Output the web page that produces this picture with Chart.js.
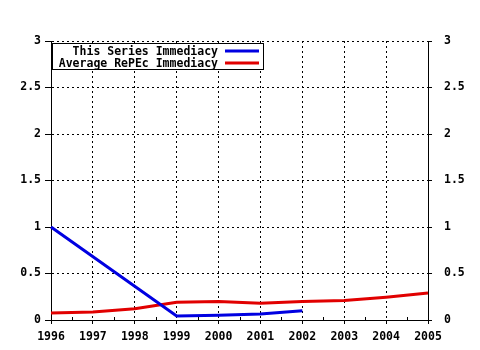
<!DOCTYPE html>
<html>
<head>
<meta charset="utf-8">
<script src="https://cdn.jsdelivr.net/npm/chart.js@4/dist/chart.umd.min.js"></script>
<style>
  html, body { margin: 0; padding: 0; background: #fff; }
  #wrap { width: 480px; height: 350px; }
</style>
</head>
<body>
<div id="wrap"><canvas id="myChart" width="480" height="350"></canvas></div>
<script>
  // data
  var years = ["1996", "1997", "1998", "1999", "2000", "2001", "2002", "2003", "2004", "2005"];
  var seriesValues = [1.0, null, null, 0.043, 0.05, 0.065, 0.1, null, null, null];
  var averageValues = [0.075, 0.085, 0.12, 0.19, 0.2, 0.18, 0.2, 0.21, 0.245, 0.29];
  var yTicks = [0, 0.5, 1, 1.5, 2, 2.5, 3];
  var seriesNames = ["This Series Immediacy", "Average RePEc Immediacy"];

  var FONT = "DejaVu Sans Mono";
  var blue = "rgb(0,0,225)";
  var red = "rgb(225,0,0)";

  // legend box with text first then the line sample
  var legendBox = {
    id: "legendBox",
    afterDraw: function (chart) {
      var c = chart.ctx;
      c.save();
      c.fillStyle = "#fff";
      c.fillRect(52, 43, 211, 26);
      c.strokeStyle = "#000";
      c.lineWidth = 1;
      c.strokeRect(52.5, 43.5, 211, 26);
      c.font = "bold 11.5px '" + FONT + "'";
      c.fillStyle = "#000";
      c.textAlign = "right";
      c.textBaseline = "alphabetic";
      c.fillText(seriesNames[0], 218, 55);
      c.fillText(seriesNames[1], 218, 67);
      c.lineWidth = 3;
      c.strokeStyle = blue;
      c.beginPath(); c.moveTo(225, 51); c.lineTo(259, 51); c.stroke();
      c.strokeStyle = red;
      c.beginPath(); c.moveTo(225, 63); c.lineTo(259, 63); c.stroke();
      c.restore();
    }
  };

  // small half-year ticks on the bottom axis
  var minorTicks = {
    id: "minorTicks",
    afterDraw: function (chart) {
      var x = chart.scales.x, a = chart.chartArea, c = chart.ctx;
      c.save();
      c.strokeStyle = "#000";
      c.lineWidth = 1;
      for (var i = 0; i < years.length - 1; i++) {
        var p = Math.round((x.getPixelForValue(i) + x.getPixelForValue(i + 1)) / 2) + 0.5;
        c.beginPath(); c.moveTo(p, a.bottom); c.lineTo(p, a.bottom - 3); c.stroke();
      }
      c.restore();
    }
  };

  var tickFont = { family: FONT, size: 11.5, weight: "bold" };
  var fmt = function (v) { return String(v); };

  var ctx = document.getElementById("myChart").getContext("2d");
  var chart1 = new Chart(ctx, {
    type: "line",
    data: {
      labels: years,
      datasets: [
        {
          label: seriesNames[0],
          data: seriesValues,
          borderColor: blue,
          borderWidth: 3,
          pointRadius: 0,
          tension: 0,
          spanGaps: true,
          yAxisID: "y"
        },
        {
          label: seriesNames[1],
          data: averageValues,
          borderColor: red,
          borderWidth: 3,
          pointRadius: 0,
          tension: 0,
          yAxisID: "y"
        }
      ]
    },
    options: {
      responsive: false,
      animation: false,
      layout: { padding: { top: 41, bottom: 0, left: 0, right: 0 } },
      plugins: { legend: { display: false }, tooltip: { enabled: false } },
      scales: {
        x: {
          offset: false,
          grid: {
            offset: false,
            color: "#000",
            tickLength: 4,
            tickColor: "#000"
          },
          border: { display: true, color: "#000", dash: [2, 3] },
          ticks: { font: tickFont, color: "#000", maxRotation: 0, autoSkip: false, padding: 6 },
          afterFit: function (s) { s.height = 30; }
        },
        y: {
          position: "left",
          min: 0,
          max: 3,
          afterBuildTicks: function (s) { s.ticks = yTicks.map(function (v) { return { value: v }; }); },
          grid: { color: "#000", tickLength: 6, tickColor: "#000" },
          border: { display: true, color: "#000", dash: [2, 3] },
          ticks: { font: tickFont, color: "#000", padding: 4, callback: fmt },
          afterFit: function (s) { s.width = 51; }
        },
        y2: {
          position: "right",
          min: 0,
          max: 3,
          afterBuildTicks: function (s) { s.ticks = yTicks.map(function (v) { return { value: v }; }); },
          grid: { drawOnChartArea: false, tickLength: 4, tickColor: "#000" },
          border: { display: true, color: "#000" },
          ticks: { font: tickFont, color: "#000", padding: 12, callback: fmt },
          afterFit: function (s) { s.width = 52; }
        }
      }
    },
    plugins: [minorTicks, legendBox]
  });
</script>
</body>
</html>
